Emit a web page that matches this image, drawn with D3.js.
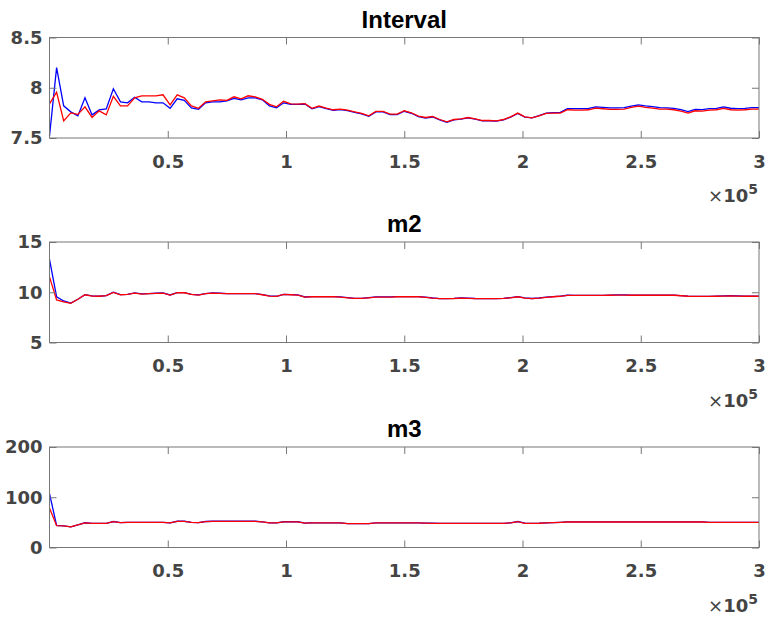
<!DOCTYPE html>
<html>
<head>
<meta charset="utf-8">
<script src="https://cdn.jsdelivr.net/npm/d3@7"></script>
<style>
  body { margin: 0; background: #fff; }
</style>
</head>
<body>
<div id="chart"></div>
<script>
const width = 770;
const height = 620;

// samples are taken every 3000 iterations, 0 .. 300000
const sampleStep = 3000;

const titles = ["Interval", "m2", "m3"];

const xTicks = [50000, 100000, 150000, 200000, 250000, 300000];
const yTicksInterval = [7.5, 8, 8.5];
const yTicksM2 = [5, 10, 15];
const yTicksM3 = [0, 100, 200];

const intervalBlue = [
    7.52, 8.20, 7.82, 7.76, 7.72, 7.90, 7.73, 7.78, 7.79, 7.99,
    7.86, 7.85, 7.905, 7.86, 7.86, 7.85, 7.85, 7.795, 7.89, 7.875,
    7.80, 7.785, 7.85, 7.86, 7.86, 7.87, 7.895, 7.88, 7.90, 7.90,
    7.88, 7.82, 7.80, 7.85, 7.835,
    7.835, 7.838, 7.79, 7.812, 7.792, 7.776, 7.782, 7.772, 7.756, 7.74,
    7.716, 7.76, 7.76, 7.733, 7.733, 7.766, 7.746, 7.712, 7.698, 7.709,
    7.68, 7.657, 7.68, 7.687, 7.70, 7.687, 7.67, 7.67, 7.668, 7.68,
    7.708, 7.745, 7.708, 7.70,
    7.722, 7.748, 7.752, 7.755, 7.793, 7.792, 7.792, 7.794, 7.81, 7.805,
    7.80, 7.80, 7.802, 7.818, 7.83, 7.82, 7.812, 7.802, 7.80, 7.795,
    7.782, 7.762, 7.785, 7.783, 7.792, 7.795, 7.81, 7.796, 7.792, 7.795,
    7.802, 7.802
];
const intervalRed = [
    7.84, 7.955, 7.67, 7.75, 7.735, 7.81, 7.705, 7.77, 7.73, 7.915,
    7.82, 7.82, 7.90, 7.92, 7.92, 7.92, 7.93, 7.83, 7.93, 7.90,
    7.82, 7.795, 7.86, 7.87, 7.88, 7.875, 7.91, 7.89, 7.92, 7.91,
    7.885, 7.835, 7.81, 7.865, 7.84,
    7.838, 7.842, 7.795, 7.818, 7.798, 7.781, 7.788, 7.778, 7.761, 7.745,
    7.721, 7.765, 7.765, 7.738, 7.738, 7.771, 7.751, 7.718, 7.704, 7.714,
    7.684, 7.661, 7.684, 7.691, 7.704, 7.691, 7.674, 7.674, 7.671, 7.684,
    7.711, 7.748, 7.711, 7.701,
    7.721, 7.745, 7.748, 7.748, 7.781, 7.778, 7.778, 7.781, 7.798, 7.791,
    7.785, 7.785, 7.788, 7.805, 7.818, 7.805, 7.798, 7.788, 7.788, 7.781,
    7.768, 7.748, 7.771, 7.768, 7.778, 7.781, 7.795, 7.781, 7.778, 7.781,
    7.788, 7.788
];

const m2Blue = [
    13.26, 9.55, 9.13, 8.92, 9.3, 9.76, 9.63, 9.6, 9.67, 10.0,
    9.76, 9.79, 9.93, 9.83, 9.87, 9.9, 9.93, 9.73, 9.96, 9.96,
    9.79, 9.73, 9.87, 9.93, 9.9, 9.87, 9.87, 9.87, 9.87, 9.87,
    9.76, 9.63, 9.6, 9.79, 9.76, 9.73, 9.53, 9.56, 9.56, 9.56,
    9.56, 9.53, 9.46, 9.4, 9.4, 9.46, 9.53, 9.53, 9.53, 9.56,
    9.56, 9.56, 9.56, 9.51, 9.43, 9.37, 9.37, 9.39, 9.43, 9.41,
    9.38, 9.37, 9.37, 9.37, 9.4, 9.46, 9.56, 9.43, 9.38, 9.43,
    9.51, 9.56, 9.61, 9.7, 9.69, 9.69, 9.69, 9.69, 9.69, 9.71,
    9.73, 9.73, 9.71, 9.71, 9.71, 9.71, 9.71, 9.71, 9.71, 9.66,
    9.61, 9.59, 9.59, 9.59, 9.61, 9.63, 9.65, 9.63, 9.61, 9.61,
    9.61
];
const m2Red = [
    11.53, 9.23, 9.05, 8.9, 9.3, 9.75, 9.62, 9.6, 9.66, 9.99,
    9.75, 9.78, 9.92, 9.82, 9.86, 9.89, 9.92, 9.72, 9.95, 9.95,
    9.78, 9.72, 9.86, 9.92, 9.89, 9.86, 9.86, 9.86, 9.86, 9.86,
    9.75, 9.62, 9.59, 9.78, 9.75, 9.72, 9.52, 9.55, 9.55, 9.55,
    9.55, 9.52, 9.45, 9.39, 9.39, 9.45, 9.52, 9.52, 9.52, 9.55,
    9.55, 9.55, 9.55, 9.5, 9.42, 9.36, 9.36, 9.38, 9.42, 9.4,
    9.37, 9.36, 9.36, 9.36, 9.39, 9.45, 9.55, 9.42, 9.37, 9.42,
    9.5, 9.55, 9.6, 9.69, 9.68, 9.68, 9.68, 9.68, 9.68, 9.7,
    9.72, 9.72, 9.7, 9.7, 9.7, 9.7, 9.7, 9.7, 9.7, 9.65,
    9.6, 9.58, 9.58, 9.58, 9.6, 9.62, 9.64, 9.62, 9.6, 9.6,
    9.6
];

const m3Blue = [
    107, 44.2, 43.2, 41.2, 45.2, 49.2, 48.2, 48.2, 48.2, 51.7,
    49.7, 50.2, 50.2, 50.2, 50.2, 50.2, 50.2, 49.2, 52.2, 52.2,
    50.2, 49.7, 51.7, 52.2, 52.2, 52.2, 52.2, 52.2, 52.2, 52.2,
    51.2, 49.2, 49.2, 51.2, 51.2, 51.2, 48.7, 49.2, 49.2, 49.2,
    49.2, 49.2, 47.7, 47.7, 47.7, 47.7, 49.2, 49.2, 49.2, 49.2,
    49.2, 49.2, 49.2, 48.7, 48.4, 48.2, 48.2, 48.2, 48.2, 48.2,
    48.2, 48.2, 48.2, 48.2, 48.2, 49.2, 51.7, 48.4, 48.2, 48.5,
    49.2, 49.7, 50.2, 50.9, 50.9, 50.9, 50.9, 50.9, 50.9, 50.9,
    50.9, 50.9, 50.9, 50.9, 50.9, 50.9, 50.9, 50.9, 50.9, 50.9,
    50.9, 50.9, 50.9, 50.2, 50.2, 50.2, 50.2, 50.2, 50.2, 50.2,
    50.2
];
const m3Red = [
    78.6, 43.5, 43, 41, 45, 49, 48, 48, 48, 51.5,
    49.5, 50, 50, 50, 50, 50, 50, 49, 52, 52,
    50, 49.5, 51.5, 52, 52, 52, 52, 52, 52, 52,
    51, 49, 49, 51, 51, 51, 48.5, 49, 49, 49,
    49, 49, 47.5, 47.5, 47.5, 47.5, 49, 49, 49, 49,
    49, 49, 49, 48.5, 48.2, 48, 48, 48, 48, 48,
    48, 48, 48, 48, 48, 49, 51.5, 48.2, 48, 48.3,
    49, 49.5, 50, 50.7, 50.7, 50.7, 50.7, 50.7, 50.7, 50.7,
    50.7, 50.7, 50.7, 50.7, 50.7, 50.7, 50.7, 50.7, 50.7, 50.7,
    50.7, 50.7, 50.7, 50, 50, 50, 50, 50, 50, 50,
    50
];

const panels = [
    { title: titles[0], top: 37.5, domain: [7.5, 8.5], yTicks: yTicksInterval, blue: intervalBlue, red: intervalRed },
    { title: titles[1], top: 242, domain: [5, 15], yTicks: yTicksM2, blue: m2Blue, red: m2Red },
    { title: titles[2], top: 447, domain: [0, 200], yTicks: yTicksM3, blue: m3Blue, red: m3Red }
];

const left = 49.5;
const right = 759;
const panelHeight = 100.5;
const labelColor = "#444";
const boxColor = "#777";

const svg = d3.select("#chart")
    .append("svg")
    .attr("width", width)
    .attr("height", height);

const x = d3.scaleLinear().domain([0, 300000]).range([left, right]);

function drawPanel(p) {
    const bottom = p.top + panelHeight;
    const y = d3.scaleLinear().domain(p.domain).range([bottom, p.top]);

    const g = svg.append("g");

    // lines first, box and ticks on top like matlab
    const line = d3.line()
        .x((d, i) => x(i * sampleStep))
        .y(d => y(d));

    g.append("path")
        .datum(p.blue)
        .attr("d", line)
        .attr("fill", "none")
        .attr("stroke", "#0000ff")
        .attr("stroke-width", 1.3);

    g.append("path")
        .datum(p.red)
        .attr("d", line)
        .attr("fill", "none")
        .attr("stroke", "#ff0000")
        .attr("stroke-width", 1.3);

    const axBottom = g.append("g")
        .attr("transform", "translate(0," + bottom + ")")
        .call(d3.axisBottom(x).tickValues(xTicks).tickSizeInner(-7).tickSizeOuter(0)
            .tickPadding(17).tickFormat(d => String(d / 1e5)));

    const axTop = g.append("g")
        .attr("transform", "translate(0," + p.top + ")")
        .call(d3.axisTop(x).tickValues(xTicks).tickSizeInner(-7).tickSizeOuter(0).tickFormat(""));

    const axLeft = g.append("g")
        .attr("transform", "translate(" + left + ",0)")
        .call(d3.axisLeft(y).tickValues(p.yTicks).tickSizeInner(-7).tickSizeOuter(0)
            .tickPadding(7).tickFormat(d => String(d)));

    const axRight = g.append("g")
        .attr("transform", "translate(" + right + ",0)")
        .call(d3.axisRight(y).tickValues(p.yTicks).tickSizeInner(-7).tickSizeOuter(0).tickFormat(""));

    [axBottom, axTop, axLeft, axRight].forEach(a => {
        a.select(".domain").remove();
        a.selectAll("line").attr("stroke", boxColor);
        a.selectAll("text")
            .attr("fill", labelColor)
            .style("font-family", "'DejaVu Sans', sans-serif")
            .style("font-weight", "bold")
            .style("font-size", "18px");
    });

    g.append("rect")
        .attr("x", left)
        .attr("y", p.top)
        .attr("width", right - left)
        .attr("height", panelHeight)
        .attr("fill", "none")
        .attr("stroke", boxColor)
        .attr("stroke-width", 1);

    g.append("text")
        .attr("x", (left + right) / 2)
        .attr("y", p.top - 10)
        .attr("text-anchor", "middle")
        .style("font-family", "'Liberation Sans', Arial, sans-serif")
        .style("font-weight", "bold")
        .style("font-size", "24px")
        .attr("fill", "#000")
        .text(p.title);

    // x10^5 exponent label
    const ex = g.append("text")
        .attr("x", right - 1)
        .attr("y", bottom + 64)
        .attr("text-anchor", "end")
        .attr("fill", labelColor)
        .style("font-family", "'DejaVu Sans', sans-serif")
        .style("font-size", "18px");
    ex.append("tspan").text("\u00d7");
    ex.append("tspan").style("font-weight", "bold").text("10");
    ex.append("tspan")
        .attr("dy", -8)
        .style("font-weight", "bold")
        .style("font-size", "14px")
        .text("5");
}

panels.forEach(drawPanel);
</script>
</body>
</html>
